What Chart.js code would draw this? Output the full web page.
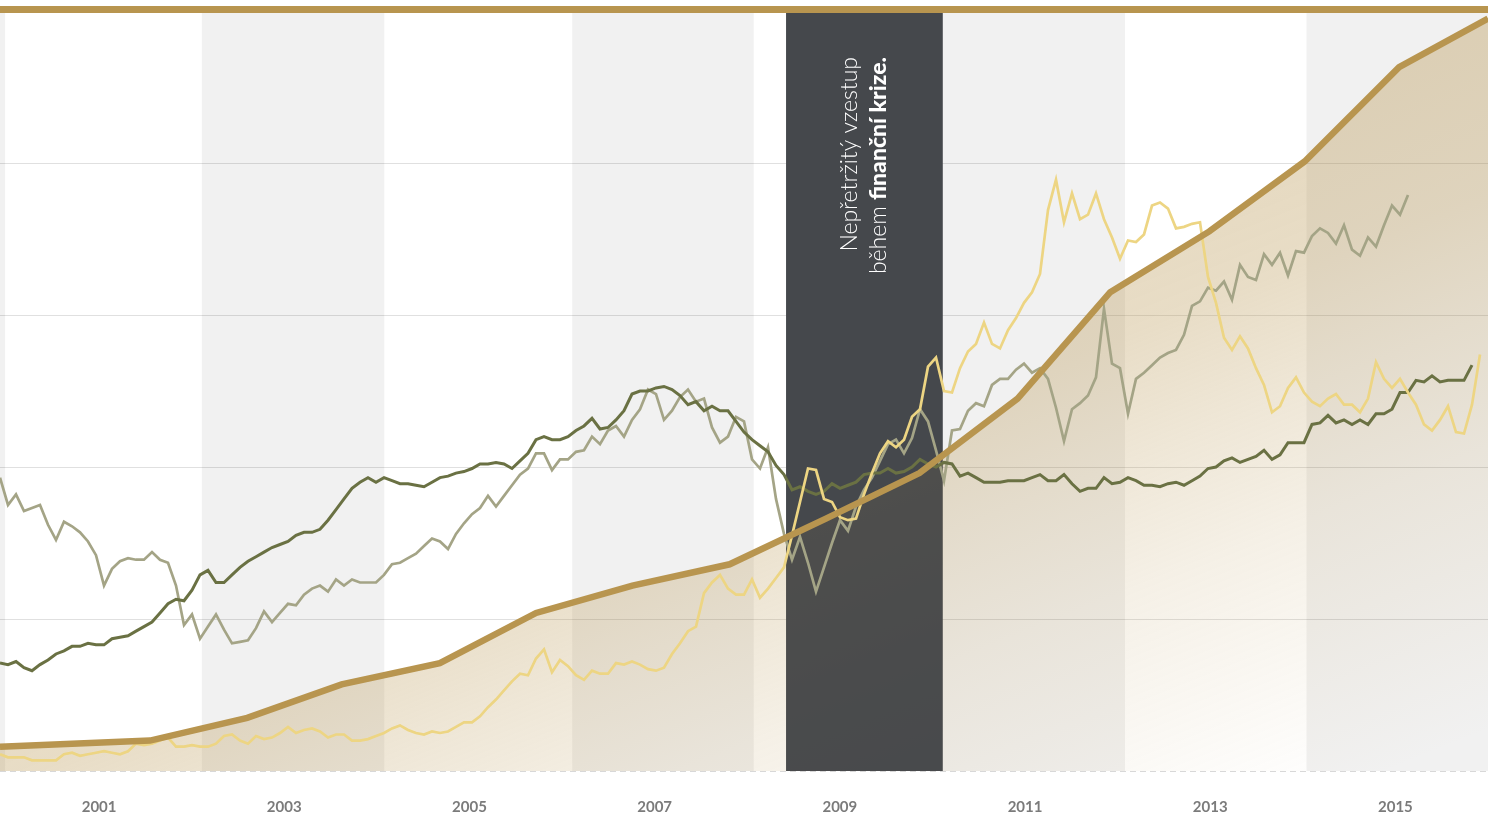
<!DOCTYPE html>
<html lang="cs">
<head>
<meta charset="utf-8">
<title>Nepřetržitý vzestup</title>
<script src="https://cdn.jsdelivr.net/npm/chart.js@4.4.1/dist/chart.umd.min.js"></script>
<style>
  html, body { margin: 0; padding: 0; background: #fff; }
  #wrap { width: 1488px; height: 816px; position: relative; }
</style>
</head>
<body>
<div id="wrap"><canvas id="chart"></canvas></div>
<script>
// osa x v letech, popisky jen liché roky
const tickYears = [2001, 2003, 2005, 2007, 2009, 2011, 2013, 2015];
const yearMin = 1999.93;
const yearMax = 2016.0;

// šedé pruhy a pruh krize (v letech)
const bandFrom = [1998.0, 2002.11, 2006.11, 2010.11, 2014.04];
const bandTo = [1999.985, 2004.08, 2008.07, 2012.08, 2016.1];
const crisis = [2008.42, 2010.11];

// hlavní zlatá křivka
const goldYears = [1999.93, 2001.55, 2002.60, 2003.62, 2004.68, 2005.72, 2006.76, 2007.81,
  2008.85, 2009.86, 2010.92, 2011.92, 2012.99, 2014.02, 2015.04, 2016.0];
const goldValues = [0.16, 0.20, 0.35, 0.57, 0.71, 1.04, 1.22, 1.36,
  1.66, 1.96, 2.45, 3.15, 3.55, 4.01, 4.63, 4.95];

// měsíční řady (index období)
const periodCount = 186;
const darkValues = [
  0.71,0.70,0.72,0.68,0.66,0.70,0.73,0.77,0.79,0.82,
  0.82,0.84,0.83,0.83,0.87,0.88,0.89,0.92,0.95,0.98,
  1.04,1.10,1.13,1.12,1.19,1.29,1.32,1.24,1.24,1.29,
  1.34,1.38,1.41,1.44,1.47,1.49,1.51,1.55,1.57,1.57,
  1.59,1.65,1.72,1.79,1.86,1.90,1.93,1.90,1.93,1.91,
  1.89,1.89,1.88,1.87,1.90,1.93,1.94,1.96,1.97,1.99,
  2.02,2.02,2.03,2.02,1.99,2.04,2.09,2.18,2.20,2.18,
  2.18,2.20,2.24,2.27,2.32,2.25,2.26,2.31,2.37,2.48,
  2.50,2.50,2.52,2.53,2.51,2.47,2.41,2.43,2.37,2.40,
  2.37,2.37,2.30,2.23,2.18,2.14,2.10,2.01,1.95,1.85,
  1.87,1.84,1.82,1.84,1.89,1.86,1.88,1.90,1.95,1.96,
  1.96,1.99,1.96,1.97,2.00,2.05,2.02,2.00,2.03,2.02,
  1.94,1.96,1.93,1.90,1.90,1.90,1.91,1.91,1.91,1.93,
  1.95,1.91,1.91,1.95,1.89,1.84,1.86,1.86,1.93,1.89,
  1.90,1.93,1.91,1.88,1.88,1.87,1.89,1.90,1.88,1.91,
  1.94,1.99,2.00,2.04,2.06,2.03,2.05,2.07,2.11,2.05,
  2.08,2.16,2.16,2.16,2.28,2.29,2.34,2.29,2.31,2.28,
  2.31,2.28,2.35,2.35,2.38,2.49,2.49,2.57,2.56,2.60,
  2.56,2.57,2.57,2.57,2.67
];
const grayValues = [
  1.93,1.75,1.82,1.71,1.73,1.75,1.62,1.52,1.64,1.61,
  1.57,1.51,1.42,1.22,1.33,1.38,1.40,1.39,1.39,1.44,
  1.39,1.37,1.22,0.96,1.03,0.87,0.95,1.03,0.93,0.84,
  0.85,0.86,0.94,1.05,0.98,1.04,1.10,1.09,1.16,1.20,
  1.22,1.18,1.26,1.22,1.26,1.24,1.24,1.24,1.29,1.36,
  1.37,1.40,1.43,1.48,1.53,1.51,1.46,1.56,1.63,1.69,
  1.73,1.81,1.74,1.81,1.88,1.95,1.99,2.09,2.09,1.98,
  2.05,2.05,2.10,2.11,2.20,2.15,2.24,2.27,2.20,2.31,
  2.38,2.51,2.48,2.31,2.37,2.46,2.51,2.43,2.45,2.26,
  2.16,2.20,2.33,2.30,2.05,1.99,2.13,1.79,1.56,1.39,
  1.54,1.37,1.18,1.34,1.50,1.65,1.58,1.74,1.85,1.93,
  2.04,2.15,2.18,2.09,2.19,2.38,2.30,2.11,1.91,2.24,
  2.25,2.37,2.42,2.40,2.54,2.58,2.58,2.64,2.68,2.62,
  2.65,2.58,2.39,2.17,2.38,2.42,2.47,2.59,3.04,2.68,
  2.65,2.35,2.58,2.62,2.67,2.72,2.75,2.77,2.87,3.06,
  3.09,3.18,3.16,3.22,3.10,3.33,3.25,3.23,3.40,3.33,
  3.41,3.26,3.42,3.41,3.52,3.57,3.54,3.47,3.59,3.43,
  3.39,3.51,3.45,3.59,3.72,3.66,3.79
];
const yellowValues = [
  0.11,0.09,0.09,0.09,0.07,0.07,0.07,0.07,0.11,0.12,
  0.10,0.11,0.12,0.13,0.12,0.11,0.13,0.18,0.17,0.18,
  0.20,0.22,0.16,0.16,0.17,0.16,0.16,0.18,0.23,0.24,
  0.20,0.18,0.23,0.21,0.22,0.25,0.29,0.25,0.27,0.28,
  0.26,0.22,0.24,0.24,0.20,0.20,0.21,0.23,0.25,0.28,
  0.30,0.27,0.25,0.24,0.26,0.25,0.26,0.29,0.32,0.32,
  0.36,0.42,0.47,0.53,0.59,0.64,0.63,0.74,0.80,0.65,
  0.73,0.69,0.63,0.60,0.66,0.64,0.64,0.71,0.70,0.72,
  0.70,0.67,0.66,0.68,0.77,0.84,0.92,0.95,1.17,1.24,
  1.29,1.20,1.16,1.16,1.26,1.14,1.20,1.27,1.34,1.55,
  1.77,1.99,1.98,1.79,1.77,1.67,1.65,1.66,1.82,1.96,
  2.09,2.17,2.13,2.18,2.33,2.38,2.66,2.72,2.50,2.49,
  2.65,2.76,2.81,2.95,2.81,2.78,2.90,2.98,3.08,3.15,
  3.27,3.69,3.89,3.61,3.80,3.63,3.66,3.80,3.63,3.51,
  3.37,3.49,3.48,3.53,3.72,3.74,3.70,3.57,3.58,3.60,
  3.61,3.25,3.08,2.85,2.77,2.86,2.78,2.65,2.54,2.36,
  2.40,2.52,2.59,2.49,2.43,2.40,2.45,2.48,2.41,2.41,
  2.36,2.45,2.69,2.58,2.52,2.58,2.49,2.41,2.28,2.24,
  2.31,2.40,2.23,2.22,2.41,2.74
];

const GOLD = '#b8954f';

function monthly(values) {
  return values.map((v, i) => ({ x: i, y: v }));
}

// výplň pod zlatou křivkou - šikmý přechod
function goldFill(context) {
  const chart = context.chart;
  const a = chart.chartArea;
  if (!a) return 'rgba(184,149,79,0.3)';
  const w = a.right - a.left, h = a.bottom - a.top;
  const g = chart.ctx.createLinearGradient(a.left, a.top, a.left + w * 0.315, a.top + h * 1.54);
  g.addColorStop(0, 'rgba(184,149,79,0.45)');
  g.addColorStop(0.38, 'rgba(184,149,79,0.40)');
  g.addColorStop(0.57, 'rgba(184,149,79,0.32)');
  g.addColorStop(0.66, 'rgba(184,149,79,0.23)');
  g.addColorStop(0.76, 'rgba(184,149,79,0.14)');
  g.addColorStop(0.97, 'rgba(184,149,79,0)');
  return g;
}

function crisisRect(chart, color) {
  const { ctx, chartArea: a, scales: { x } } = chart;
  const l = x.getPixelForValue(crisis[0]);
  const r = x.getPixelForValue(crisis[1]);
  ctx.fillStyle = color;
  ctx.fillRect(l, a.top, r - l, a.bottom - a.top);
}

const decor = {
  id: 'decor',
  beforeDraw(chart) {
    const { ctx, chartArea: a, scales: { x, y } } = chart;
    ctx.save();
    ctx.fillStyle = '#f1f1f1';
    bandFrom.forEach((f, i) => {
      const l = Math.max(a.left, x.getPixelForValue(f));
      const r = Math.min(a.right, x.getPixelForValue(bandTo[i]));
      ctx.fillRect(l, a.top, r - l, a.bottom - a.top);
    });
    // vodorovná mřížka
    ctx.strokeStyle = 'rgba(0,0,0,0.12)';
    ctx.lineWidth = 1;
    y.ticks.forEach(t => {
      if (t.value <= y.min || t.value >= y.max) return;
      const py = Math.round(y.getPixelForValue(t.value)) + 0.5;
      ctx.beginPath();
      ctx.moveTo(a.left, py);
      ctx.lineTo(a.right, py);
      ctx.stroke();
    });
    crisisRect(chart, '#45484c');
    // čárkovaná základna
    ctx.strokeStyle = '#d8d8d8';
    ctx.setLineDash([6, 4]);
    ctx.beginPath();
    ctx.moveTo(a.left, a.bottom + 0.5);
    ctx.lineTo(a.right, a.bottom + 0.5);
    ctx.stroke();
    ctx.restore();
  },
  beforeDatasetsDraw(chart) {
    chart.ctx.save();
    crisisRect(chart, 'rgba(69,72,76,0.72)');
    chart.ctx.restore();
  },
  afterDatasetsDraw(chart) {
    const { ctx, chartArea: a, scales: { x } } = chart;
    const cx = (x.getPixelForValue(crisis[0]) + x.getPixelForValue(crisis[1])) / 2;
    ctx.save();
    ctx.translate(cx - 15, a.top + 46);
    ctx.rotate(-Math.PI / 2);
    ctx.fillStyle = '#ffffff';
    ctx.textAlign = 'right';
    ctx.textBaseline = 'middle';
    ctx.font = '300 23px Lato';
    ctx.fillText('Nepřetržitý vzestup', 0, 0);
    ctx.font = '900 23px Lato';
    const bw = ctx.measureText('finanční krize.').width;
    ctx.fillText('finanční krize.', 0, 29);
    ctx.font = '300 23px Lato';
    ctx.fillText('během ', -bw, 29);
    ctx.restore();
  },
  afterDraw(chart) {
    const { ctx, chartArea: a } = chart;
    ctx.save();
    ctx.fillStyle = GOLD;
    ctx.fillRect(0, a.top - 5, chart.width, 7);
    ctx.restore();
  }
};

new Chart(document.getElementById('chart'), {
  type: 'line',
  data: {
    datasets: [
      {
        label: 'Zlato',
        data: goldYears.map((yr, i) => ({ x: yr, y: goldValues[i] })),
        xAxisID: 'x',
        borderColor: GOLD,
        borderWidth: 6.5,
        backgroundColor: goldFill,
        fill: 'start',
        pointRadius: 0,
        tension: 0,
        clip: false
      },
      {
        label: 'Žlutá',
        data: monthly(yellowValues),
        xAxisID: 'm',
        borderColor: '#edd583',
        borderWidth: 2.7,
        fill: false,
        pointRadius: 0,
        tension: 0,
        clip: false
      },
      {
        label: 'Tmavá',
        data: monthly(darkValues),
        xAxisID: 'm',
        borderColor: '#6a7143',
        borderWidth: 3,
        fill: false,
        pointRadius: 0,
        tension: 0,
        clip: false
      },
      {
        label: 'Šedá',
        data: monthly(grayValues),
        xAxisID: 'm',
        borderColor: '#a4a486',
        borderWidth: 2.7,
        fill: false,
        pointRadius: 0,
        tension: 0,
        clip: false
      }
    ]
  },
  options: {
    responsive: true,
    maintainAspectRatio: false,
    animation: false,
    layout: { padding: { top: 11, left: 0, right: 0, bottom: 0 } },
    plugins: {
      legend: { display: false },
      tooltip: { enabled: false },
      filler: { drawTime: 'beforeDatasetsDraw' }
    },
    scales: {
      x: {
        type: 'linear',
        position: 'bottom',
        min: yearMin,
        max: yearMax,
        afterBuildTicks: axis => {
          axis.ticks = tickYears.map(v => ({ value: v }));
        },
        afterFit: axis => {
          axis.height = 45;
        },
        grid: { display: false, drawTicks: false },
        border: { display: false },
        ticks: {
          padding: 27,
          color: '#7b7b7b',
          autoSkip: false,
          maxRotation: 0,
          font: { family: 'Lato', size: 15, weight: 'bold' },
          callback: v => String(v)
        }
      },
      m: {
        type: 'linear',
        axis: 'x',
        display: false,
        min: 0,
        max: periodCount
      },
      y: {
        type: 'linear',
        display: false,
        min: 0,
        max: 5,
        ticks: { stepSize: 1 }
      }
    }
  },
  plugins: [decor]
});
</script>
</body>
</html>
